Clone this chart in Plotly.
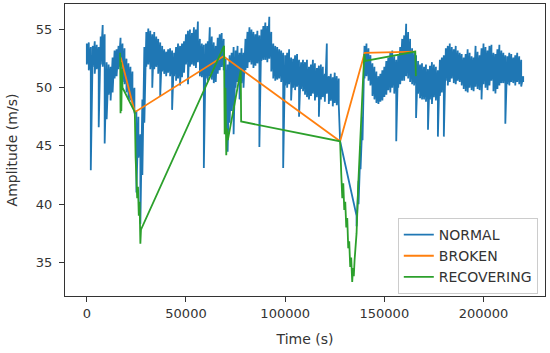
import plotly.graph_objects as go

# ---- NORMAL (blue): per-1000 s band top / bottom ----
normal_a_t = list(range(0, 128000, 1000))
normal_a_hi = [
    53.8, 53.9, 53.5, 53.6, 54.0, 53.7, 53.5, 54.4, 55.4, 54.6,
    52.2, 52.0, 51.8, 52.6, 53.2, 53.3, 53.6, 54.3, 53.8, 53.4,
    52.5, 52.1, 51.8, 51.4, 50.0, 48.0, 47.5, 46.0, 49.0, 53.5,
    54.8, 55.1, 54.9, 54.6, 54.8, 54.4, 54.2, 53.9, 53.6, 53.3,
    53.1, 53.3, 53.4, 53.2, 53.0, 53.5, 53.8, 53.6, 53.8, 54.0,
    54.6, 54.9, 55.0, 54.7, 55.2, 55.0, 55.7, 54.2, 53.8, 53.7,
    53.8, 54.0, 55.2, 54.4, 53.9, 53.6, 54.3, 54.6, 54.7, 54.2,
    52.5, 52.0, 52.8, 53.0, 53.5, 53.2, 53.6, 53.0, 53.4, 53.0,
    54.2, 54.8, 55.2, 55.0, 54.8, 54.6, 54.9, 54.5, 55.0, 55.3,
    55.6, 55.3, 56.1, 54.8, 53.8, 53.6, 53.5, 53.3, 53.2, 53.0,
    52.8, 53.0, 53.3, 52.6, 52.5, 52.8, 52.9, 52.4, 52.2, 52.4,
    52.2, 52.4, 51.8, 52.0, 52.4, 52.1, 51.7, 51.9, 52.0, 51.8,
    51.2, 53.8, 51.0, 51.2, 50.9, 51.3, 51.0, 50.8,
]
normal_a_lo = [
    52.0, 51.5, 42.9, 51.8, 51.2, 51.6, 46.6, 52.0, 51.8, 45.2,
    47.3, 49.4, 48.9, 49.6, 50.8, 51.0, 51.6, 51.8, 50.5, 50.3,
    49.6, 49.0, 48.9, 48.4, 47.8, 41.0, 44.0, 38.3, 42.5, 47.0,
    51.8, 52.0, 51.6, 50.0, 51.6, 51.8, 51.2, 49.3, 51.4, 51.2,
    51.0, 51.3, 51.0, 48.1, 51.0, 50.6, 50.8, 50.2, 50.9, 51.3,
    52.0, 50.3, 51.8, 52.0, 51.9, 51.7, 52.2, 51.0, 50.9, 43.1,
    50.8, 50.6, 51.0, 50.7, 50.4, 50.5, 51.2, 51.5, 51.8, 51.5,
    46.0, 44.5, 47.0, 48.0, 46.0, 50.0, 50.5, 49.0, 50.4, 50.0,
    51.5, 51.7, 52.2, 52.0, 51.7, 51.9, 52.1, 44.9, 52.3, 52.4,
    52.4, 52.2, 52.5, 51.4, 50.8, 50.6, 50.7, 50.8, 50.5, 43.1,
    50.2, 50.0, 50.3, 48.9, 50.0, 49.8, 50.1, 47.5, 49.9, 49.7,
    49.4, 49.2, 49.0, 49.3, 49.5, 48.9, 49.2, 47.5, 49.0, 49.2,
    48.8, 49.5, 48.6, 48.9, 48.4, 48.7, 48.5, 48.6,
]
normal_gap_t = [127700]
normal_gap_v = [45.4]
normal_b_t = list(range(136000, 221000, 1000))
normal_b_hi = [
    39.0, 42.0, 45.0, 47.5,
    53.6, 53.8, 53.4, 52.8, 52.1, 51.8, 51.4, 51.0, 51.2, 51.5,
    51.8, 52.3, 52.6, 53.0, 53.2, 52.7, 52.4, 52.8, 53.5, 54.2,
    54.5, 55.5, 54.8, 54.2, 53.4, 53.0, 52.8, 52.3, 52.0, 52.1,
    51.8, 52.0, 51.6, 51.9, 52.2, 52.0, 51.8, 51.5, 52.4, 52.6,
    52.8, 53.4, 53.6, 53.8, 53.5, 53.3, 53.6, 53.2, 53.0, 52.9,
    52.6, 52.9, 53.3, 53.0, 52.7, 52.6, 53.6, 53.1, 52.8, 53.4,
    53.8, 53.5, 53.2, 53.6, 53.7, 53.0, 52.9, 53.3, 53.7, 53.2,
    53.0, 52.8, 52.7, 53.0, 52.9, 52.6, 52.8, 53.0, 52.7, 52.4, 51.0,
]
normal_b_lo = [
    38.1, 40.0, 43.0, 45.5,
    50.8, 51.0, 50.6, 50.2, 49.3, 49.0, 48.7, 48.6, 48.8, 48.9,
    49.2, 49.4, 49.8, 49.6, 50.0, 49.5, 45.4, 50.0, 50.3, 50.6,
    50.6, 51.0, 50.8, 50.5, 50.3, 50.2, 47.4, 49.5, 49.1, 49.0,
    49.0, 48.8, 46.4, 49.0, 48.6, 49.2, 48.9, 45.8, 49.3, 49.6,
    45.8, 50.6, 50.2, 50.5, 50.8, 50.4, 50.3, 50.6, 50.5, 50.2,
    49.9, 49.7, 49.6, 50.0, 49.8, 49.7, 50.1, 49.9, 49.8, 49.0,
    50.3, 50.0, 49.8, 50.2, 50.6, 49.7, 49.5, 49.9, 50.2, 50.4,
    50.4, 46.9, 50.3, 50.2, 50.5, 50.4, 50.2, 50.5, 50.3, 50.1, 50.5,
]

# ---- BROKEN (orange) ----
broken_t = [17100, 24200, 68900, 127700, 140100, 165800]
broken_v = [52.6, 47.9, 52.7, 45.4, 53.0, 53.1]

# ---- RECOVERING (green) ----
recovering_t = [16800, 17000, 17200, 17400, 17700, 18000,
                24200, 24600, 25000, 25400, 25800, 26200, 26600, 27000, 27300,
                69200, 69500, 69900, 70300, 70700, 71100,
                77600, 77800,
                127700, 128300, 128800, 129300, 129800, 130300, 130800, 131300,
                131800, 132300, 132800, 133300, 133800, 134200, 134600, 135000,
                135500, 136000, 136800, 137600, 138400, 139200, 139900, 140400,
                165600, 165900]
recovering_v = [53.0, 47.8, 52.2, 48.0, 51.6, 50.0,
                47.9, 44.0, 42.0, 40.5, 41.5, 39.0, 40.2, 36.6, 37.8,
                53.6, 46.0, 50.0, 44.2, 46.5, 45.5,
                51.5, 47.1,
                45.4, 42.5, 40.5, 41.8, 39.5, 40.2, 38.0, 38.8,
                36.2, 36.8, 34.6, 35.4, 33.3, 34.5, 33.8, 35.2,
                36.4, 37.5, 41.5, 45.0, 47.5, 50.5, 52.9, 52.3,
                53.1, 51.0]

x_ticks = [0, 50000, 100000, 150000, 200000]
y_ticks = [35, 40, 45, 50, 55]


def band(ts, his, los):
    xs, ys = [], []
    for t, h, l in zip(ts, his, los):
        xs += [t, t]
        ys += [h, l]
    return xs, ys


ax, ay = band(normal_a_t, normal_a_hi, normal_a_lo)
bx, by = band(normal_b_t, normal_b_hi, normal_b_lo)
normal_t = ax + normal_gap_t + bx
normal_v = ay + normal_gap_v + by

FONT = "DejaVu Sans"
fig = go.Figure()
fig.add_trace(go.Scatter(x=normal_t, y=normal_v, mode="lines", name="NORMAL",
                         line=dict(color="#1f77b4", width=1.8)))
fig.add_trace(go.Scatter(x=broken_t, y=broken_v, mode="lines", name="BROKEN",
                         line=dict(color="#ff7f0e", width=1.8)))
fig.add_trace(go.Scatter(x=recovering_t, y=recovering_v, mode="lines", name="RECOVERING",
                         line=dict(color="#2ca02c", width=1.8)))

axis_common = dict(showgrid=False, zeroline=False, showline=True, mirror=True,
                   linecolor="#333", linewidth=1, ticks="outside", ticklen=5,
                   tickcolor="#333", tickfont=dict(family=FONT, size=13, color="#333"))
fig.update_xaxes(range=[-11000, 231000], tickvals=x_ticks,
                 ticktext=[str(v) for v in x_ticks],
                 title=dict(text="Time (s)", font=dict(family=FONT, size=14, color="#333"), standoff=14),
                 **axis_common)
fig.update_yaxes(range=[32.1, 57.2], tickvals=y_ticks,
                 ticktext=[str(v) for v in y_ticks], ticklabelstandoff=4,
                 title=dict(text="Amplitude (m/s)", font=dict(family=FONT, size=14, color="#333"), standoff=14),
                 **axis_common)
fig.update_layout(
    width=550, height=353,
    margin=dict(l=65, r=5, t=4, b=57, autoexpand=False),
    plot_bgcolor="white", paper_bgcolor="white",
    legend=dict(x=0.985, y=0.007, xanchor="right", yanchor="bottom",
                bgcolor="white", bordercolor="#ccc", borderwidth=1,
                font=dict(family=FONT, size=14, color="#333"),
                itemwidth=30, tracegroupgap=0),
)
fig.write_html("out.html", config={"displayModeBar": False},
               post_script="document.body.style.margin='0';document.body.style.padding='0';")
